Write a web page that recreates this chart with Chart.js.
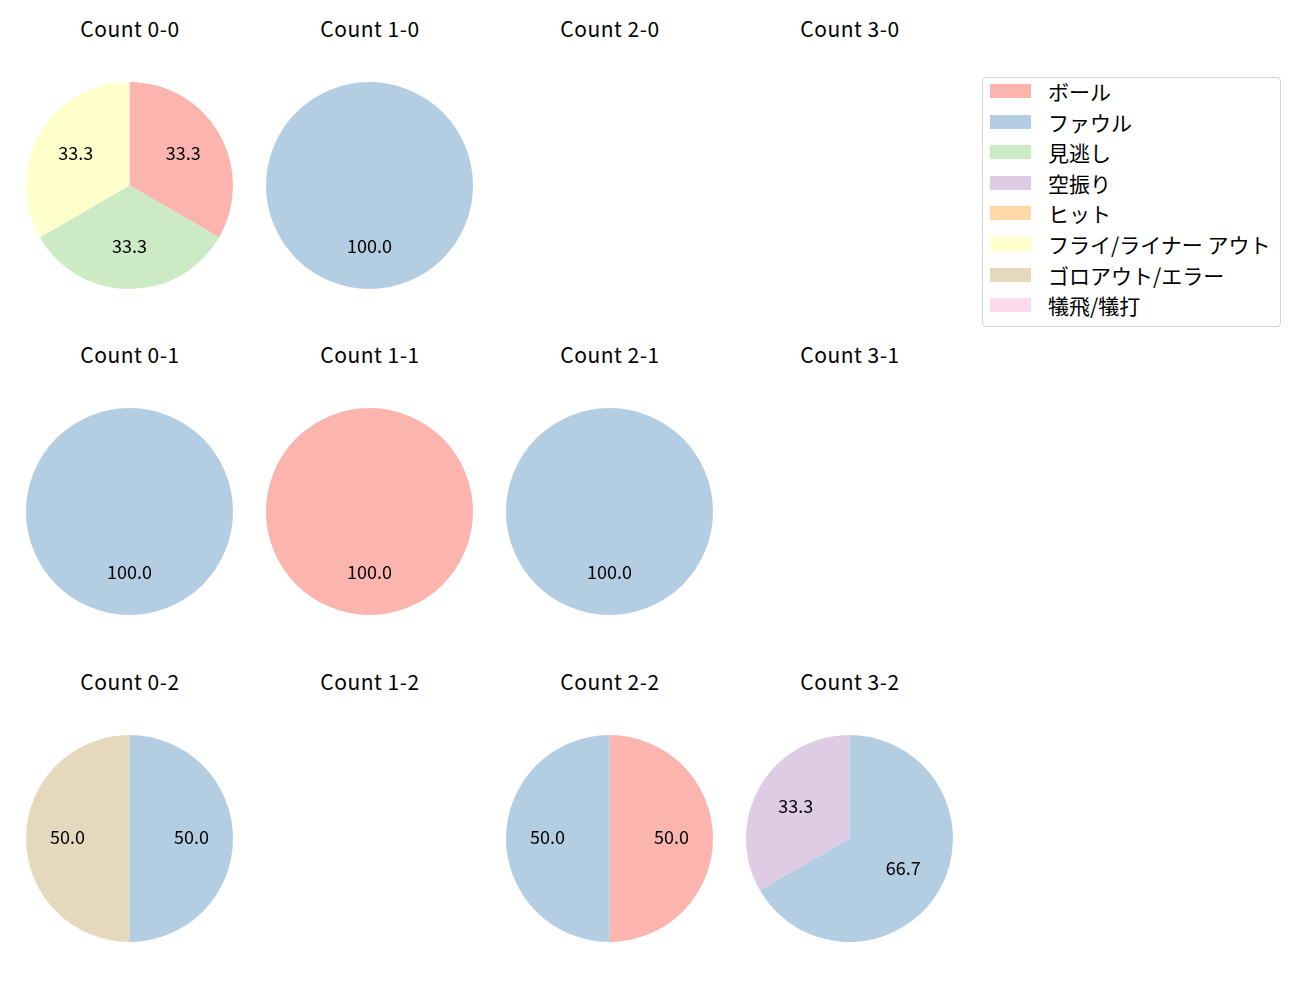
<!DOCTYPE html>
<html>
<head>
<meta charset="utf-8">
<script src="https://cdn.jsdelivr.net/npm/chart.js@4"></script>
<style>
    body { margin: 0; background: #fff; font-family: "Noto Sans CJK JP", "Noto Sans", sans-serif; }
    #page { position: relative; width: 1300px; height: 1000px; }
    .title { position: absolute; width: 240px; text-align: center; font-size: 21px; letter-spacing: 0.5px; color: #000; line-height: 24px; }
    .pie { position: absolute; }
    #legend { position: absolute; left: 982px; top: 77px; width: 297px; height: 248px; border: 1px solid #d4d4d4; border-radius: 4px; }
    .item { position: absolute; left: 0; height: 24px; }
    .swatch { position: absolute; left: 7px; top: 5px; width: 41px; height: 14px; }
    .label { position: absolute; left: 65px; top: 0; font-size: 21px; line-height: 24px; white-space: nowrap; color: #000; }
</style>
</head>
<body>
<div id="page"></div>
<script>
const outcomes = ["ボール", "ファウル", "見逃し", "空振り", "ヒット", "フライ/ライナー アウト", "ゴロアウト/エラー", "犠飛/犠打"];
const colors = ["#fbb4ae", "#b3cde3", "#ccebc5", "#decbe4", "#fed9a6", "#ffffcc", "#e5d8bd", "#fddaec"];

const countLabels = ["0-0", "1-0", "2-0", "3-0", "0-1", "1-1", "2-1", "3-1", "0-2", "1-2", "2-2", "3-2"];

// pitch outcomes per count, same order as outcomes
const count00 = [1, 0, 1, 0, 0, 1, 0, 0];
const count10 = [0, 1, 0, 0, 0, 0, 0, 0];
const count20 = [0, 0, 0, 0, 0, 0, 0, 0];
const count30 = [0, 0, 0, 0, 0, 0, 0, 0];
const count01 = [0, 1, 0, 0, 0, 0, 0, 0];
const count11 = [1, 0, 0, 0, 0, 0, 0, 0];
const count21 = [0, 1, 0, 0, 0, 0, 0, 0];
const count31 = [0, 0, 0, 0, 0, 0, 0, 0];
const count02 = [0, 1, 0, 0, 0, 0, 1, 0];
const count12 = [0, 0, 0, 0, 0, 0, 0, 0];
const count22 = [1, 1, 0, 0, 0, 0, 0, 0];
const count32 = [0, 2, 0, 1, 0, 0, 0, 0];

const countData = [count00, count10, count20, count30, count01, count11, count21, count31, count02, count12, count22, count32];

const colX = [130, 370, 610, 850];
const rowY = [186, 512, 839];
const titleY = [16, 342, 669];

// percent labels at 0.6 of the radius, like autopct
const pctLabels = {
    id: "pctLabels",
    afterDatasetsDraw(chart) {
        const ctx = chart.ctx;
        const values = chart.data.datasets[0].data;
        const total = values.reduce((a, b) => a + b, 0);
        if (!total) return;
        ctx.save();
        ctx.font = "18px 'Noto Sans CJK JP', 'Noto Sans', sans-serif";
        ctx.fillStyle = "#000";
        ctx.textAlign = "center";
        ctx.textBaseline = "middle";
        chart.getDatasetMeta(0).data.forEach((arc, i) => {
            if (!values[i]) return;
            const mid = (arc.startAngle + arc.endAngle) / 2;
            const r = arc.outerRadius * 0.6;
            const x = arc.x + Math.cos(mid) * r;
            const y = arc.y + Math.sin(mid) * r - 1.5;
            ctx.fillText((values[i] / total * 100).toFixed(1), x, y);
        });
        ctx.restore();
    }
};

const page = document.getElementById("page");

countLabels.forEach((name, i) => {
    const col = i % 4;
    const row = Math.floor(i / 4);

    const title = document.createElement("div");
    title.className = "title";
    title.style.left = (colX[col] - 120) + "px";
    title.style.top = titleY[row] + "px";
    title.textContent = "Count " + name;
    page.appendChild(title);

    const canvas = document.createElement("canvas");
    canvas.className = "pie";
    canvas.width = 207;
    canvas.height = 207;
    canvas.style.left = (colX[col] - 104) + "px";
    canvas.style.top = (rowY[row] - 104) + "px";
    page.appendChild(canvas);

    new Chart(canvas.getContext("2d"), {
        type: "pie",
        data: {
            labels: outcomes,
            datasets: [{
                data: countData[i],
                backgroundColor: colors,
                borderWidth: 0
            }]
        },
        options: {
            responsive: false,
            animation: false,
            layout: { padding: 0 },
            plugins: {
                legend: { display: false },
                tooltip: { enabled: false }
            }
        },
        plugins: [pctLabels]
    });
});

const legend = document.createElement("div");
legend.id = "legend";
outcomes.forEach((name, i) => {
    const item = document.createElement("div");
    item.className = "item";
    item.style.top = (1 + i * 30.6) + "px";
    item.innerHTML = `<div class="swatch" style="background:${colors[i]}"></div><div class="label">${name}</div>`;
    legend.appendChild(item);
});
page.appendChild(legend);
</script>
</body>
</html>
